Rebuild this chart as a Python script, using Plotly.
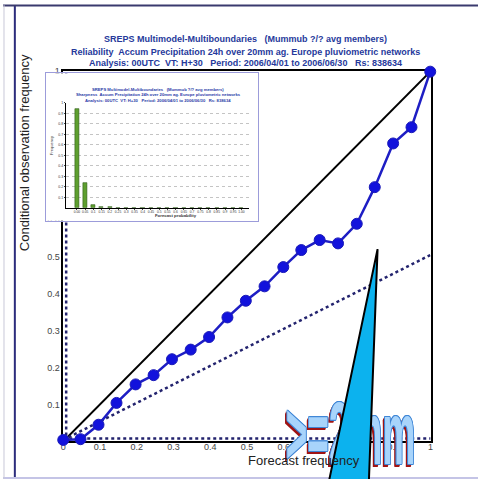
import plotly.graph_objects as go

# ---------------- data ----------------
fc_prob = [0.0, 0.047, 0.096, 0.145, 0.197, 0.246, 0.296, 0.347, 0.397, 0.447, 0.497,
           0.548, 0.599, 0.648, 0.698, 0.748, 0.799, 0.848, 0.898, 0.948, 0.999]
obs_freq = [0.004, 0.006, 0.045, 0.104, 0.154, 0.179, 0.222, 0.248, 0.282, 0.335, 0.380,
            0.419, 0.471, 0.517, 0.544, 0.535, 0.588, 0.687, 0.805, 0.849, 0.999]
clim = 0.008
axis_ticks = [0, 0.1, 0.2, 0.3, 0.4, 0.5, 0.6, 0.7, 0.8, 0.9, 1]
axis_ticktext = ["0", "0.1", "0.2", "0.3", "0.4", "0.5", "0.6", "0.7", "0.8", "0.9", "1"]

sharp_cats = list(range(21))
sharp_labels = ["0.00", "0.05", "0.1", "0.15", "0.2", "0.25", "0.3", "0.35", "0.4", "0.45", "0.5",
                "0.55", "0.6", "0.65", "0.7", "0.75", "0.8", "0.85", "0.9", "0.95", "1.00"]
sharp_freq = [0.94, 0.239, 0.025, 0.01, 0.005, 0.003, 0, 0, 0, 0, 0,
              0, 0, 0, 0, 0, 0, 0, 0, 0, 0]
sharp_yticks = [0.1, 0.2, 0.3, 0.4, 0.5, 0.6, 0.7, 0.8, 0.9, 1]
sharp_ytext = ["0.1", "0.2", "0.3", "0.4", "0.5", "0.6", "0.7", "0.8", "0.9", "1"]

title_lines = ["SREPS Multimodel-Multiboundaries   (Mummub ?/? avg members)",
               "Reliability  Accum Precipitation 24h over 20mm ag. Europe pluviometric networks",
               "Analysis: 00UTC  VT: H+30   Period: 2006/04/01 to 2006/06/30   Rs: 838634"]
inset_lines = ["SREPS Multimodel-Multiboundaries   (Mummub ?/? avg members)",
               "Sharpness  Accum Precipitation 24h over 20mm ag. Europe pluviometric networks",
               "Analysis: 00UTC  VT: H+30   Period: 2006/04/01 to 2006/06/30   Rs: 838634"]
overlay_text = ">=2mm"

W, H = 481, 479
def px(x):
    return x / W
def py(y):
    return (H - y) / H

FONT = "Liberation Sans, Arial, sans-serif"
fig = go.Figure()

# ---------------- main reliability plot ----------------
fig.add_trace(go.Scatter(x=[0, 1], y=[0, 1], mode="lines",
                         line=dict(color="black", width=2), hoverinfo="skip"))
fig.add_trace(go.Scatter(x=[0, 1], y=[clim / 2, 0.5 + clim / 2], mode="lines",
                         line=dict(color="#23236e", width=2.5, dash="dot"), hoverinfo="skip"))
fig.add_trace(go.Scatter(x=[clim, clim], y=[0, 1], mode="lines",
                         line=dict(color="#23236e", width=2.5, dash="dot"), hoverinfo="skip"))
fig.add_trace(go.Scatter(x=[0, 1], y=[clim, clim], mode="lines",
                         line=dict(color="#23236e", width=2.5, dash="dot"), hoverinfo="skip"))
fig.add_trace(go.Scatter(x=fc_prob, y=obs_freq, mode="lines+markers", cliponaxis=False,
                         line=dict(color="#1e1ec4", width=2.5),
                         marker=dict(color="#1212dc", size=11, line=dict(color="#1a1ab8", width=1))))

# WordArt-like overlay text (below the triangle shape)
oc = "#3f86d6"
rc = "#a01414"
fig.add_trace(go.Scatter(
    x=[0.782], y=[0.011], mode="text", text=[overlay_text], cliponaxis=False,
    textposition="middle center", hoverinfo="skip",
    textfont=dict(family="Liberation Sans, Arial, sans-serif",
                  size=37, color="#a8d4fb", weight="bold",
                  shadow=(f"-1.5px 0 0 {oc}, 1.5px 0 0 {oc}, 0 -1px 0 {oc}, 0 1px 0 {oc}, "
                          f"-1px -1px 0 {oc}, 1px 1px 0 {oc}, -1px 1px 0 {oc}, 1px -1px 0 {oc}, "
                          f"-2.5px 1px 0 {rc}, -3.5px 1.5px 0 {rc}, -4px 2px 0 {rc}"))))

axis_common = dict(showline=True, mirror=True, linecolor="black", linewidth=1.5,
                   showgrid=False, zeroline=False, ticks="", layer="below traces",
                   tickfont=dict(family=FONT, size=9, color="#444"), fixedrange=True)
fig.update_layout(
    xaxis=dict(domain=[px(61), px(433)], range=[0, 1], anchor="y",
               tickvals=axis_ticks, ticktext=axis_ticktext, ticklabelstandoff=-4, **axis_common),
    yaxis=dict(domain=[py(441), py(67)], range=[0, 1], anchor="x",
               tickvals=axis_ticks[1:], ticktext=axis_ticktext[1:], **axis_common),
)

# ---------------- inset (sharpness diagram) ----------------
fig.add_trace(go.Scatter(x=[None], y=[None], xaxis="x2", yaxis="y2", showlegend=False))
fig.update_layout(
    xaxis2=dict(domain=[px(44), px(258)], range=[0, 1], anchor="y2", showline=True, mirror=True,
                linecolor="#9c9cda", linewidth=1, showgrid=False, zeroline=False,
                showticklabels=False, ticks="", fixedrange=True),
    yaxis2=dict(domain=[py(218), py(69)], range=[0, 1], anchor="x2", showline=True, mirror=True,
                linecolor="#9c9cda", linewidth=1, showgrid=False, zeroline=False,
                showticklabels=False, ticks="", fixedrange=True),
)
fig.add_trace(go.Bar(x=sharp_cats, y=sharp_freq, xaxis="x3", yaxis="y3", width=0.5,
                     marker=dict(color="#5e9f2f", line=dict(color="#2c5a14", width=0.6))))
fig.update_layout(
    xaxis3=dict(domain=[px(64), px(249)], range=[-1.3, 20.9], anchor="y3",
                tickvals=sharp_cats, ticktext=sharp_labels, tickangle=0,
                tickfont=dict(family=FONT, size=3.3, color="#333"), ticklabelstandoff=-1,
                showline=True, linecolor="black", linewidth=0.8, showgrid=False,
                zeroline=False, ticks="outside", ticklen=1.2, tickwidth=0.5, fixedrange=True),
    yaxis3=dict(domain=[py(205), py(99)], range=[0, 1], anchor="x3",
                tickvals=sharp_yticks, ticktext=sharp_ytext,
                tickfont=dict(family=FONT, size=3.5, color="#333"),
                showline=True, linecolor="black", linewidth=0.8,
                showgrid=True, gridcolor="#c4c4c4", gridwidth=0.6, griddash="dot",
                zeroline=False, ticks="outside", ticklen=1.5, tickwidth=0.5, fixedrange=True),
)

# ---------------- annotations ----------------
ann = []
for i, t in enumerate(title_lines):
    ann.append(dict(text=f"<b>{t}</b>", x=px(246), y=py([34, 47, 59][i]), xref="paper", yref="paper",
                    xanchor="center", yanchor="middle", showarrow=False,
                    font=dict(family=FONT, size=9, color="#26399b")))
for i, t in enumerate(inset_lines):
    ann.append(dict(text=f"<b>{t}</b>", x=px(157), y=py([85, 90.7, 96.3][i]), xref="paper", yref="paper",
                    xanchor="center", yanchor="middle", showarrow=False,
                    font=dict(family=FONT, size=4.2, color="#2a3aa8")))
ann.append(dict(text="Frequency", x=px(49), y=py(142), xref="paper", yref="paper", textangle=-90,
                xanchor="center", yanchor="middle", showarrow=False,
                font=dict(family=FONT, size=4, color="#333")))
ann.append(dict(text="<b>Forecast probability</b>", x=px(175), y=py(213), xref="paper", yref="paper",
                xanchor="center", yanchor="middle", showarrow=False,
                font=dict(family=FONT, size=4.3, color="#333")))
ann.append(dict(text="Conditional observation frequency", x=px(22), y=py(149), xref="paper", yref="paper",
                textangle=-90, xanchor="center", yanchor="middle", showarrow=False,
                font=dict(family=FONT, size=13, color="#222")))
ann.append(dict(text="Forecast frequency", x=px(246), y=py(460), xref="paper", yref="paper",
                xanchor="left", yanchor="middle", showarrow=False,
                font=dict(family=FONT, size=13, color="#222")))

# ---------------- shapes (slide frame + callout triangle) ----------------
shapes = [
    dict(type="line", xref="paper", yref="paper", x0=px(12), x1=px(12), y0=0, y1=1,
         line=dict(color="#2c2c7c", width=2), layer="above"),
    dict(type="line", xref="paper", yref="paper", x0=0, x1=1, y0=py(0.5), y1=py(0.5),
         line=dict(color="#3a3a6e", width=2), layer="above"),
    dict(type="line", xref="paper", yref="paper", x0=0, x1=1, y0=py(478), y1=py(478),
         line=dict(color="#c4c4e6", width=2), layer="above"),
    dict(type="line", xref="paper", yref="paper", x0=px(1), x1=px(1), y0=0, y1=1,
         line=dict(color="#c8c8d8", width=1), layer="above"),
    dict(type="path", xref="paper", yref="paper",
         path=f"M {px(379.3)},{py(246.7)} L {px(329.5)},{py(484)} L {px(370.4)},{py(484)} Z",
         fillcolor="#0cb2ee", line=dict(color="black", width=2), layer="above"),
]

fig.update_layout(
    width=W, height=H, margin=dict(l=0, r=0, t=0, b=0, pad=0),
    paper_bgcolor="white", plot_bgcolor="white", showlegend=False,
    annotations=ann, shapes=shapes, bargap=0,
)

# stretch the WordArt text vertically (tall, condensed look of the original)
post = """
document.body.style.margin='0';document.body.style.overflow='hidden';
var gd=document.querySelector('.plotly-graph-div');
function stretch(){
  gd.querySelectorAll('.textpoint text').forEach(function(t){
    if(t.getAttribute('data-str')) return;
    var b=t.getBBox(); var cy=b.y+b.height/2; var s=2.4;
    var old=t.getAttribute('transform')||'';
    t.setAttribute('transform',(old+' matrix(1,0,0,'+s+',0,'+(cy*(1-s))+')').trim());
    t.setAttribute('data-str','1');
  });
}
stretch();
gd.on('plotly_afterplot', stretch);
"""
fig.write_html("out.html", config=dict(displayModeBar=False), post_script=post)
